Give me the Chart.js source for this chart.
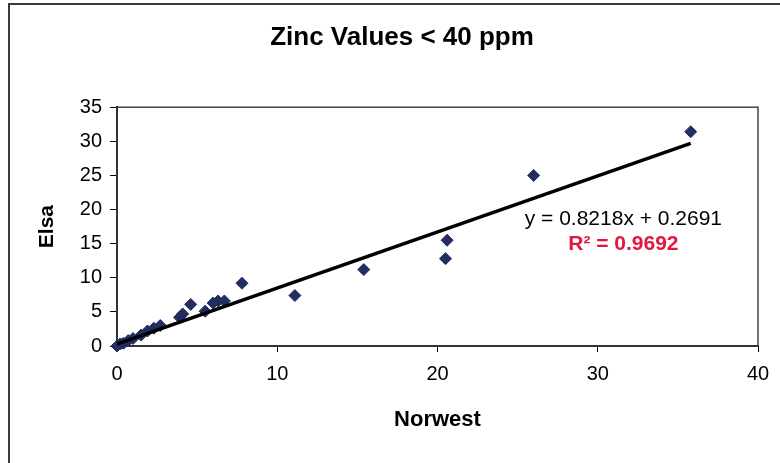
<!DOCTYPE html>
<html>
<head>
<meta charset="utf-8">
<title>Zinc Values &lt; 40 ppm</title>
<script src="https://cdn.jsdelivr.net/npm/chart.js@4"></script>
<style>
    body { margin: 0; background: #fff; }
    canvas { display: block; }
</style>
</head>
<body>
<canvas id="zincChart" width="780" height="463"></canvas>
<script>
// Sample values (ppm)
const norwest = [0.0, 0.2, 0.4, 0.7, 1.0, 1.5, 1.9, 2.3, 2.7, 3.9, 4.1, 4.6, 5.5, 6.0, 6.3, 6.7, 7.8, 11.1, 15.4, 20.5, 20.6, 26.0, 35.8];
const elsa = [0.0, 0.3, 0.4, 0.8, 1.1, 1.6, 2.2, 2.6, 3.0, 4.2, 4.7, 6.1, 5.1, 6.3, 6.6, 6.6, 9.2, 7.4, 11.2, 12.8, 15.5, 25.0, 31.4];

// Excel trendline
const slope = 0.8218;
const intercept = 0.2691;
const rSquared = 0.9692;

const xTicks = [0, 10, 20, 30, 40];
const yTicks = [0, 5, 10, 15, 20, 25, 30, 35];

document.addEventListener('DOMContentLoaded', () => {
    const ctx = document.getElementById('zincChart').getContext('2d');
    const FONT = "'Liberation Sans', Arial, sans-serif";

    const points = norwest.map((x, i) => ({ x: x, y: elsa[i] }));
    const xMin = Math.min(...norwest);
    const xMax = Math.max(...norwest);
    const trend = [
        { x: xMin, y: slope * xMin + intercept },
        { x: xMax, y: slope * xMax + intercept }
    ];

    // Frame around the whole chart + plot area box, and the equation label
    const excelBits = {
        id: 'excelBits',
        beforeDraw(chart) {
            const c = chart.ctx;
            c.save();
            c.strokeStyle = '#3a3a3a';
            c.lineWidth = 2;
            c.beginPath();
            c.moveTo(9, 470);
            c.lineTo(9, 4);
            c.lineTo(790, 4);
            c.stroke();
            c.restore();
        },
        beforeDatasetsDraw(chart) {
            const a = chart.chartArea;
            const c = chart.ctx;
            c.save();
            c.strokeStyle = '#444';
            c.lineWidth = 1.5;
            c.strokeRect(a.left, a.top, a.right - a.left, a.bottom - a.top);
            c.restore();
        },
        afterDraw(chart) {
            const c = chart.ctx;
            const xs = chart.scales.x, ys = chart.scales.y;
            const cx = xs.getPixelForValue(31.6);
            c.save();
            c.textAlign = 'center';
            c.textBaseline = 'middle';
            c.fillStyle = '#000';
            c.font = '21px ' + FONT;
            c.fillText('y = ' + slope.toFixed(4) + 'x + ' + intercept.toFixed(4), cx, ys.getPixelForValue(18.6));
            c.fillStyle = '#e0173f';
            c.font = 'bold 21px ' + FONT;
            c.fillText('R\u00B2 = ' + rSquared.toFixed(4), cx, ys.getPixelForValue(14.9));
            c.restore();
        }
    };

    new Chart(ctx, {
        type: 'scatter',
        data: {
            datasets: [{
                type: 'line',
                label: 'Trend',
                data: trend,
                borderColor: '#000',
                borderWidth: 3.5,
                pointRadius: 0,
                fill: false,
                order: 0
            }, {
                label: 'Elsa vs Norwest',
                data: points,
                backgroundColor: '#222d60',
                borderColor: '#222d60',
                pointStyle: 'rectRot',
                pointRadius: 6,
                clip: false,
                order: 1
            }]
        },
        options: {
            responsive: false,
            animation: false,
            layout: { padding: { left: 46, right: 22, top: 0, bottom: 0 } },
            plugins: {
                legend: { display: false },
                tooltip: { enabled: false },
                title: {
                    display: true,
                    text: 'Zinc Values < 40 ppm',
                    color: '#000',
                    font: { family: FONT, size: 26, weight: 'bold' },
                    padding: { top: 22, bottom: 54 }
                }
            },
            scales: {
                x: {
                    type: 'linear',
                    min: 0, max: 40,
                    afterBuildTicks: (scale) => { scale.ticks = xTicks.map(v => ({ value: v })); },
                    afterFit: (scale) => { scale.height = 117; },
                    border: { color: '#000', width: 2 },
                    grid: { drawOnChartArea: false, drawTicks: true, tickLength: 6, color: '#000' },
                    ticks: { color: '#000', padding: 10, font: { family: FONT, size: 20 } },
                    title: {
                        display: true,
                        text: 'Norwest',
                        color: '#000',
                        font: { family: FONT, size: 22, weight: 'bold' },
                        padding: { top: 0, bottom: 30 }
                    }
                },
                y: {
                    type: 'linear',
                    min: 0, max: 35,
                    afterBuildTicks: (scale) => { scale.ticks = yTicks.map(v => ({ value: v })); },
                    afterFit: (scale) => { scale.width = 71; },
                    border: { color: '#000', width: 2 },
                    grid: { drawOnChartArea: false, drawTicks: true, tickLength: 7, color: '#000' },
                    ticks: { color: '#000', padding: 8, font: { family: FONT, size: 20 } },
                    title: {
                        display: true,
                        text: 'Elsa',
                        color: '#000',
                        font: { family: FONT, size: 21, weight: 'bold' },
                        padding: { top: -11.6, bottom: 0 }
                    }
                }
            }
        },
        plugins: [excelBits]
    });
});
</script>
</body>
</html>
